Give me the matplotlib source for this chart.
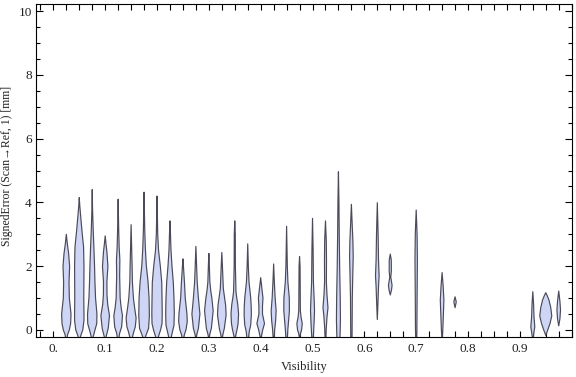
import numpy as np
import matplotlib
matplotlib.use("Agg")
import matplotlib.pyplot as plt
from matplotlib.ticker import MultipleLocator, FixedLocator

# bin centres (visibility) of each violin
vis_bins = [0.025, 0.05, 0.075, 0.1, 0.125, 0.15, 0.175, 0.2, 0.225, 0.25,
            0.275, 0.3, 0.325, 0.35, 0.375, 0.4, 0.425, 0.45, 0.475, 0.5,
            0.525, 0.55, 0.575, 0.625, 0.65, 0.7, 0.75, 0.775, 0.925, 0.95,
            0.975]

# error levels (mm) along each violin, top to bottom
levels = [
    [3.0, 2.7, 2.4, 2.0, 1.5, 1.0, 0.5, 0.2, 0.0, -0.15, -0.3, -0.65],
    [4.15, 3.9, 3.6, 3.1, 2.6, 2.0, 1.0, 0.5, 0.3, 0.0, -0.2, -0.4, -0.78],
    [4.4, 3.8, 3.1, 2.55, 2.0, 1.5, 1.0, 0.5, 0.2, -0.05, -0.25, -0.9],
    [2.95, 2.7, 2.45, 2.0, 1.5, 1.1, 0.8, 0.45, 0.05, -0.2, -0.52],
    [4.1, 3.2, 2.6, 2.2, 1.7, 1.0, 0.7, 0.45, 0.1, -0.1, -0.3, -0.63],
    [3.3, 2.5, 2.0, 1.5, 1.0, 0.7, 0.37, 0.1, -0.05, -0.26, -0.63],
    [4.32, 3.6, 3.1, 2.55, 2.0, 1.5, 1.0, 0.45, 0.05, -0.2, -0.4, -0.8],
    [4.2, 3.5, 3.0, 2.5, 2.0, 1.5, 1.0, 0.5, 0.2, 0.0, -0.2, -0.4, -0.8],
    [3.42, 3.1, 2.5, 2.0, 1.5, 1.0, 0.5, 0.15, -0.05, -0.26, -0.68],
    [2.23, 2.0, 1.5, 1.0, 0.5, 0.26, 0.0, -0.16, -0.47],
    [2.62, 2.0, 1.5, 1.0, 0.5, 0.05, -0.15, -0.3],
    [2.4, 2.0, 1.5, 1.2, 1.0, 0.6, 0.05, -0.12, -0.3],
    [2.43, 2.0, 1.3, 1.0, 0.78, 0.47, 0.05, -0.15, -0.33],
    [3.42, 3.0, 2.0, 1.2, 1.0, 0.8, 0.5, 0.2, 0.05, -0.31],
    [2.7, 2.0, 1.5, 1.0, 0.7, 0.47, 0.16, -0.05, -0.52],
    [1.64, 1.3, 1.0, 0.75, 0.5, 0.2, 0.0, -0.3],
    [2.07, 1.5, 1.0, 0.6, 0.3, 0.0, -0.52],
    [3.25, 2.0, 1.5, 1.0, 0.6, 0.3, 0.0, -0.63],
    [2.3, 2.0, 1.0, 0.6, 0.4, 0.2, 0.0, -0.1, -0.26],
    [3.5, 2.5, 1.5, 0.9, 0.6, 0.2, -0.2, -0.73],
    [3.42, 2.8, 2.2, 1.5, 1.1, 0.7, 0.4, 0.0, -0.58],
    [4.96, 4.0, 3.0, 2.0, 1.0, 0.3, -0.3, -0.8, -1.46],
    [3.94, 3.3, 2.8, 2.3, 1.9, 1.0, 0.0, -0.5, -1.15],
    [3.99, 3.0, 2.2, 1.7, 1.35, 0.8, 0.33],
    [2.38, 2.2, 1.85, 1.66, 1.4, 1.25, 1.1],
    [3.76, 3.0, 2.2, 1.0, 0.0, -0.87],
    [1.8, 1.4, 0.94, 0.5, 0.0, -0.37],
    [1.04, 0.88, 0.7],
    [1.2, 0.8, 0.4, 0.1, -0.1, -0.37],
    [1.17, 1.05, 0.94, 0.7, 0.44, 0.2, 0.0, -0.17],
    [1.22, 0.9, 0.63, 0.35, 0.13],
]

# relative density (half width) at each level
density = [
    [0, 1.0, 2.3, 3.3, 2.7, 3.0, 4.7, 4.3, 3.0, 1.2, 0.5, 0],
    [0, 0.5, 1.3, 2.7, 4.3, 4.7, 4.5, 4.7, 4.7, 3.5, 1.2, 0.5, 0],
    [0, 0.3, 1.0, 1.7, 2.3, 2.7, 3.3, 4.7, 4.5, 2.3, 0.7, 0],
    [0, 0.8, 1.7, 2.7, 1.7, 1.8, 2.5, 4.3, 3.0, 1.0, 0],
    [0, 0.5, 1.0, 1.7, 1.5, 2.0, 3.0, 4.3, 3.5, 1.5, 0.5, 0],
    [0, 0.6, 1.0, 1.3, 2.3, 3.5, 5.0, 4.2, 2.7, 1.0, 0],
    [0, 0.4, 0.7, 1.3, 2.3, 4.0, 5.0, 5.3, 4.5, 1.5, 0.6, 0],
    [0, 0.4, 0.7, 1.5, 3.3, 4.7, 5.0, 5.2, 5.0, 3.5, 1.5, 0.6, 0],
    [0, 0.4, 1.0, 2.0, 3.3, 4.0, 4.3, 4.0, 2.5, 1.0, 0],
    [0, 0.5, 1.5, 2.3, 4.0, 4.3, 3.0, 1.3, 0],
    [0, 0.7, 1.3, 2.5, 4.0, 2.5, 0.8, 0],
    [0, 0.5, 1.0, 2.0, 3.0, 4.3, 2.5, 1.0, 0],
    [0, 0.6, 1.5, 2.8, 3.8, 4.3, 2.5, 1.0, 0],
    [0, 0.5, 0.6, 1.2, 2.0, 3.0, 3.8, 3.3, 2.5, 0],
    [0, 0.6, 1.3, 3.0, 3.5, 3.6, 3.0, 1.5, 0],
    [0, 1.2, 2.3, 1.8, 1.8, 3.8, 2.0, 0],
    [0, 0.7, 1.5, 2.5, 2.0, 1.0, 0],
    [0, 0.7, 1.3, 2.7, 2.8, 2.0, 1.2, 0],
    [0, 0.5, 0.7, 0.8, 1.5, 2.7, 2.0, 1.0, 0],
    [0, 0.6, 0.9, 1.7, 2.0, 1.5, 0.8, 0],
    [0, 0.8, 1.0, 0.9, 1.5, 2.5, 1.5, 0.7, 0],
    [0, 0.5, 0.8, 1.2, 1.8, 2.0, 1.5, 0.7, 0],
    [0, 0.8, 1.5, 1.8, 1.5, 0.9, 0.7, 0.5, 0],
    [0, 0.8, 1.2, 1.8, 1.2, 0.6, 0],
    [0, 1.0, 1.1, 0.5, 1.8, 1.2, 0],
    [0, 0.9, 1.2, 0.9, 0.7, 0],
    [0, 1.0, 1.8, 1.3, 0.7, 0],
    [0, 1.2, 0],
    [0, 0.8, 1.2, 2.0, 1.0, 0],
    [0, 1.8, 3.2, 5.0, 6.0, 4.2, 2.0, 0],
    [0, 1.2, 1.8, 1.2, 0],
]

xtick_vals = [0.0, 0.1, 0.2, 0.3, 0.4, 0.5, 0.6, 0.7, 0.8, 0.9]
xtick_labels = ["0.", "0.1", "0.2", "0.3", "0.4", "0.5", "0.6", "0.7", "0.8", "0.9"]

WIDTH_SCALE = 1.0 / 518   # density unit -> visibility units
FILL = "#cfd6f5"
EDGE = "#4a4a58"
TXT = "#222222"

plt.rcParams["font.family"] = ["Liberation Serif", "DejaVu Serif"]

fig = plt.figure(figsize=(5.76, 3.77), dpi=100)
ax = fig.add_axes([0.0625, 0.1048, 0.93, 0.8846])

for x0, ys, ds in zip(vis_bins, levels, density):
    ys = np.asarray(ys, dtype=float)
    hw = np.asarray(ds, dtype=float) * WIDTH_SCALE
    xs = np.concatenate([x0 - hw, (x0 + hw)[::-1]])
    yy = np.concatenate([ys, ys[::-1]])
    ax.fill(xs, yy, facecolor=FILL, edgecolor=EDGE, linewidth=0.85,
            joinstyle="round", zorder=2)

ax.set_xlim(-0.0335, 1.0)
ax.set_ylim(-0.235, 10.22)

ax.xaxis.set_major_locator(FixedLocator(xtick_vals))
ax.set_xticklabels(xtick_labels)
ax.xaxis.set_minor_locator(MultipleLocator(0.025))
ax.yaxis.set_major_locator(MultipleLocator(2))
ax.yaxis.set_minor_locator(MultipleLocator(0.5))

ax.tick_params(which="both", direction="in", top=True, right=True,
               width=0.8, color="black", labelsize=9.5, labelcolor=TXT)
ax.tick_params(axis="x", which="both", length=4, pad=4)
ax.tick_params(axis="y", which="major", length=5, pad=3)
ax.tick_params(axis="y", which="minor", length=3)

for s in ax.spines.values():
    s.set_linewidth(0.8)

ax.set_xlabel("Visibility", fontsize=9, color=TXT, labelpad=4)
ax.set_ylabel("SignedError (Scan\u2192Ref, 1) [mm]", fontsize=8.5, color=TXT)
ax.yaxis.set_label_coords(-0.043, 0.514)

fig.savefig("out.png", dpi=100)
